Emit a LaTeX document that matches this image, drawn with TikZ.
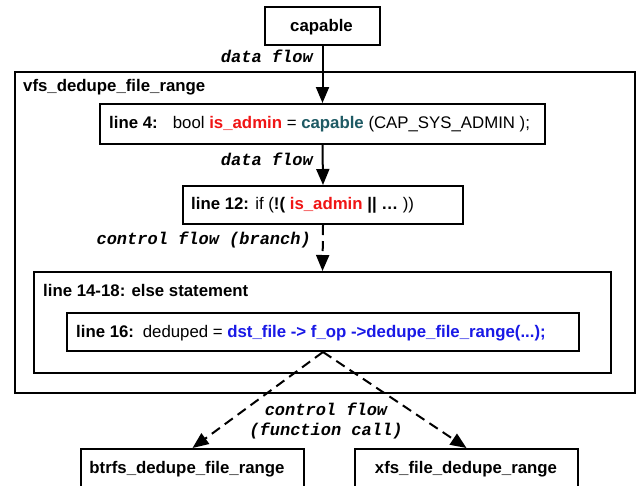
\documentclass[tikz,border=0pt]{standalone}
\usepackage{fontspec}
\setmainfont{Liberation Sans}
\newfontfamily\flowfont{Liberation Mono}
\usetikzlibrary{arrows.meta}
\definecolor{admred}{RGB}{240,20,20}
\definecolor{capteal}{RGB}{30,90,100}
\definecolor{callblue}{RGB}{25,25,230}
\begin{document}
\begin{tikzpicture}[x=1pt,y=-1pt,
  box/.style={draw=black,line width=2pt,inner sep=0pt,anchor=north west},
  txt/.style={inner sep=0pt,font=\fontsize{16.8}{19}\selectfont},
  flowlbl/.style={inner sep=0pt,font=\fontsize{17}{20}\selectfont\flowfont\bfseries\itshape},
  flow/.style={line width=2pt,-{Triangle[length=16pt,width=13pt]}},
  dflow/.style={flow,dash pattern=on 10pt off 6pt}]
\clip (0,0) rectangle (644,485);
\fill[white] (0,0) rectangle (644,485);
% boxes
\node[box,minimum width=115pt,minimum height=38pt] (cap) at (264,6) {};
\node[box,minimum width=620pt,minimum height=321pt] (vfs) at (14,71) {};
\node[box,minimum width=445pt,minimum height=40pt] (l4) at (99,103) {};
\node[box,minimum width=280pt,minimum height=38pt] (l12) at (182,185) {};
\node[box,minimum width=577pt,minimum height=101pt] (els) at (33,271) {};
\node[box,minimum width=512pt,minimum height=38pt] (l16) at (66,312) {};
\node[box,minimum width=223pt,minimum height=60pt] (btr) at (80,448) {};
\node[box,minimum width=223pt,minimum height=60pt] (xfs) at (354,448) {};
% texts
\node[txt,anchor=base] (captxt) at (321.5,31) {\bfseries capable};
\node[txt,anchor=base west] (vfstxt) at (23,91) {\bfseries vfs\_dedupe\_file\_range};
\node[txt,anchor=base west] (l4txt) at (109,128) {\textbf{line 4:}\hspace{0.9em}bool \textbf{\color{admred}is\_admin} = \textbf{\color{capteal}capable} (CAP\_SYS\_ADMIN );};
\node[txt,anchor=base west] (l12txt) at (191,209) {\textbf{line 12:} if (\textbf{!(} \textbf{\color{admred}is\_admin} \textbf{|| \dots} ))};
\node[txt,anchor=base west] (elstxt) at (43,296) {\bfseries line 14-18: else statement};
\node[txt,anchor=base west] (l16txt) at (76,337) {\textbf{line 16:}\hspace{0.15em} deduped = \textbf{\color{callblue}dst\_file -> f\_op ->dedupe\_file\_range(...);}};
\node[txt,anchor=base] (btrtxt) at (187,473) {\bfseries btrfs\_dedupe\_file\_range};
\node[txt,anchor=base] (xfstxt) at (466,473) {\bfseries xfs\_file\_dedupe\_range};
% flow labels
\node[flowlbl,anchor=base east] (df1) at (313,62) {data flow};
\node[flowlbl,anchor=base east] (df2) at (313,165) {data flow};
\node[flowlbl,anchor=base east] (cfb) at (311,244) {control flow (branch)};
\node[flowlbl,anchor=base] (cf1) at (326,415) {control flow};
\node[flowlbl,anchor=base] (cf2) at (326,435) {(function call)};
% connectors
\draw[flow] (cap.south) -- (l4.north);
\draw[flow] (l4.south) -- (l12.north);
\draw[dflow] (l12.south) -- (els.north);
\draw[dflow] (l16.south) -- (btr.north);
\draw[dflow] (l16.south) -- (xfs.north);
\end{tikzpicture}
\end{document}
